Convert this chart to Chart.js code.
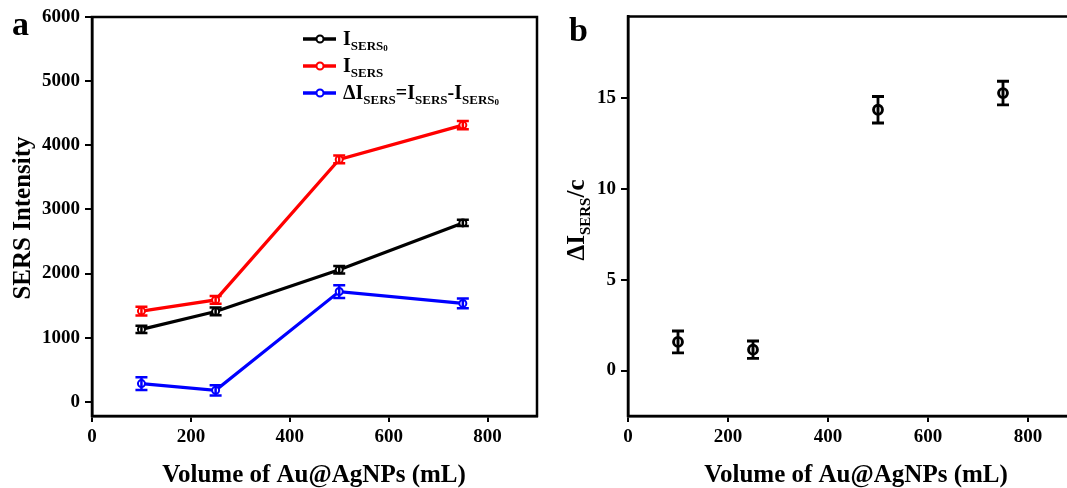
<!DOCTYPE html>
<html>
<head>
<meta charset="utf-8">
<script src="https://cdn.jsdelivr.net/npm/chart.js@4/dist/chart.umd.min.js"></script>
<style>
  html, body { margin: 0; padding: 0; background: #fff; overflow: hidden; width: 1067px; height: 488px; }
  #chartA { position: absolute; left: 0; top: 0; }
  #chartB { position: absolute; left: 560px; top: 0; }
</style>
</head>
<body>
<canvas id="chartA" width="560" height="488"></canvas>
<canvas id="chartB" width="530" height="488"></canvas>
<script>
const volumes = [100, 250, 500, 750];

const isers0 = [1130, 1410, 2060, 2790];
const isers0Err = [55, 60, 60, 50];
const isers = [1415, 1590, 3780, 4315];
const isersErr = [70, 60, 60, 65];
const deltaI = [285, 180, 1720, 1535];
const deltaIErr = [100, 80, 100, 75];

const ratio = [1.58, 1.15, 14.36, 15.28];
const ratioErr = [0.6, 0.48, 0.73, 0.65];

const xTicks = [0, 200, 400, 600, 800];
const yTicksA = [0, 1000, 2000, 3000, 4000, 5000, 6000];
const yTicksB = [0, 5, 10, 15];

const serif = '"Liberation Serif", "Times New Roman", serif';
const ctxA = document.getElementById('chartA');
const ctxB = document.getElementById('chartB');

const toPoints = (xs, ys) => xs.map((x, i) => ({ x: x, y: ys[i] }));

// text with subscripts, parts = [[text, size, dy]]
const drawRich = (ctx, parts, x, y) => {
  let cx = x;
  parts.forEach(p => {
    ctx.font = 'bold ' + p[1] + 'px ' + serif;
    ctx.fillText(p[0], cx, y + (p[2] || 0));
    cx += ctx.measureText(p[0]).width;
  });
  return cx - x;
};
const richWidth = (ctx, parts) => {
  let w = 0;
  parts.forEach(p => {
    ctx.font = 'bold ' + p[1] + 'px ' + serif;
    w += ctx.measureText(p[0]).width;
  });
  return w;
};

const errorBars = {
  id: 'errorBars',
  afterDatasetsDraw(chart) {
    const c = chart.ctx;
    const yScale = chart.scales.y;
    chart.data.datasets.forEach((ds, di) => {
      const meta = chart.getDatasetMeta(di);
      c.save();
      c.strokeStyle = ds.borderColor;
      c.lineWidth = ds.errWidth;
      meta.data.forEach((pt, i) => {
        const v = ds.data[i].y;
        const e = ds.errors[i];
        const top = yScale.getPixelForValue(v + e);
        const bot = yScale.getPixelForValue(v - e);
        const w = ds.capWidth;
        c.beginPath();
        c.moveTo(pt.x, top); c.lineTo(pt.x, bot);
        c.moveTo(pt.x - w, top); c.lineTo(pt.x + w, top);
        c.moveTo(pt.x - w, bot); c.lineTo(pt.x + w, bot);
        c.stroke();
      });
      c.restore();
    });
  }
};

const frameBox = {
  id: 'frameBox',
  afterDraw(chart) {
    const a = chart.chartArea;
    const c = chart.ctx;
    c.save();
    c.strokeStyle = '#000';
    c.lineWidth = 2.5;
    c.beginPath();
    c.moveTo(a.left, a.bottom);
    c.lineTo(a.left, a.top);
    c.lineTo(a.right, a.top);
    c.lineTo(a.right, a.bottom);
    c.closePath();
    c.stroke();
    c.restore();
  }
};

const labelsA = {
  id: 'labelsA',
  afterDraw(chart) {
    const c = chart.ctx;
    c.save();
    c.fillStyle = '#000';
    c.textBaseline = 'alphabetic';
    c.font = 'bold 34px ' + serif;
    c.fillText('a', 12, 35);

    c.font = 'bold 25px ' + serif;
    c.textAlign = 'center';
    c.fillText('Volume of Au@AgNPs (mL)', 314, 482);
    c.save();
    c.translate(30, 218);
    c.rotate(-Math.PI / 2);
    c.fillText('SERS Intensity', 0, 0);
    c.restore();

    // legend
    c.textAlign = 'left';
    const rows = [
      ['#000', 39, [['I', 20], ['SERS', 13, 5], ['0', 9, 6]]],
      ['#f00', 66, [['I', 20], ['SERS', 13, 5]]],
      ['#00f', 93, [['ΔI', 20], ['SERS', 13, 5], ['=I', 20], ['SERS', 13, 5], ['-I', 20], ['SERS', 13, 5], ['0', 9, 6]]]
    ];
    rows.forEach(r => {
      c.strokeStyle = r[0];
      c.lineWidth = 3.5;
      c.beginPath();
      c.moveTo(303, r[1]); c.lineTo(336, r[1]);
      c.stroke();
      c.beginPath();
      c.arc(320, r[1], 3.5, 0, Math.PI * 2);
      c.fillStyle = '#fff';
      c.fill();
      c.lineWidth = 2;
      c.stroke();
      c.fillStyle = '#000';
      drawRich(c, r[2], 343, r[1] + 6);
    });
    c.restore();
  }
};

const labelsB = {
  id: 'labelsB',
  afterDraw(chart) {
    const c = chart.ctx;
    c.save();
    c.fillStyle = '#000';
    c.font = 'bold 34px ' + serif;
    c.fillText('b', 9, 41);

    c.font = 'bold 25px ' + serif;
    c.textAlign = 'center';
    c.fillText('Volume of Au@AgNPs (mL)', 296, 482);

    c.textAlign = 'left';
    const parts = [['ΔI', 25], ['SERS', 15, 6], ['/c', 25]];
    c.translate(24, 220);
    c.rotate(-Math.PI / 2);
    const w = richWidth(c, parts);
    drawRich(c, parts, -w / 2, 0);
    c.restore();
  }
};

const axisX = (tickArr) => ({
  type: 'linear',
  min: 0,
  max: 900,
  afterBuildTicks: (axis) => { axis.ticks = tickArr.map(v => ({ value: v })); },
  afterFit: (axis) => { axis.height = 72; },
  border: { display: true, color: '#000', width: 2.5 },
  grid: { drawOnChartArea: false, drawTicks: true, tickLength: 6, tickColor: '#000', lineWidth: 2 },
  ticks: { color: '#000', padding: 4, font: { family: serif, size: 19, weight: 'bold' }, maxRotation: 0 }
});

const axisY = (tickArr, min, max, width) => ({
  type: 'linear',
  min: min,
  max: max,
  afterBuildTicks: (axis) => { axis.ticks = tickArr.map(v => ({ value: v })); },
  afterFit: (axis) => { axis.width = width; },
  border: { display: true, color: '#000', width: 2.5 },
  grid: { drawOnChartArea: false, drawTicks: true, tickLength: 7, tickColor: '#000', lineWidth: 2 },
  ticks: { color: '#000', padding: 5, font: { family: serif, size: 19, weight: 'bold' }, callback: v => String(v) }
});

const lineSet = (data, err, color) => ({
  data: toPoints(volumes, data),
  errors: err,
  capWidth: 6,
  errWidth: 2.5,
  borderColor: color,
  borderWidth: 3.2,
  backgroundColor: color,
  pointRadius: 3.5,
  pointBorderWidth: 2,
  pointBackgroundColor: '#fff',
  pointBorderColor: color,
  tension: 0
});

new Chart(ctxA, {
  type: 'line',
  data: {
    datasets: [
      lineSet(isers0, isers0Err, '#000'),
      lineSet(isers, isersErr, '#f00'),
      lineSet(deltaI, deltaIErr, '#00f')
    ]
  },
  options: {
    responsive: false,
    animation: false,
    devicePixelRatio: 1,
    layout: { padding: { left: 0, top: 17, right: 23, bottom: 0 } },
    plugins: { legend: { display: false }, tooltip: { enabled: false } },
    scales: {
      x: axisX(xTicks),
      y: axisY(yTicksA, -220, 6000, 92)
    }
  },
  plugins: [errorBars, frameBox, labelsA]
});

new Chart(ctxB, {
  type: 'scatter',
  data: {
    datasets: [{
      data: toPoints(volumes, ratio),
      errors: ratioErr,
      capWidth: 6,
      errWidth: 2.8,
      borderColor: '#000',
      pointRadius: 4.5,
      pointBorderWidth: 2.8,
      pointBackgroundColor: '#ddd',
      pointBorderColor: '#000',
      showLine: false
    }]
  },
  options: {
    responsive: false,
    animation: false,
    devicePixelRatio: 1,
    layout: { padding: { left: 0, top: 16, right: 12, bottom: 0 } },
    plugins: { legend: { display: false }, tooltip: { enabled: false } },
    scales: {
      x: axisX(xTicks),
      y: axisY(yTicksB, -2.5, 19.5, 68)
    }
  },
  plugins: [errorBars, frameBox, labelsB]
});
</script>
</body>
</html>
